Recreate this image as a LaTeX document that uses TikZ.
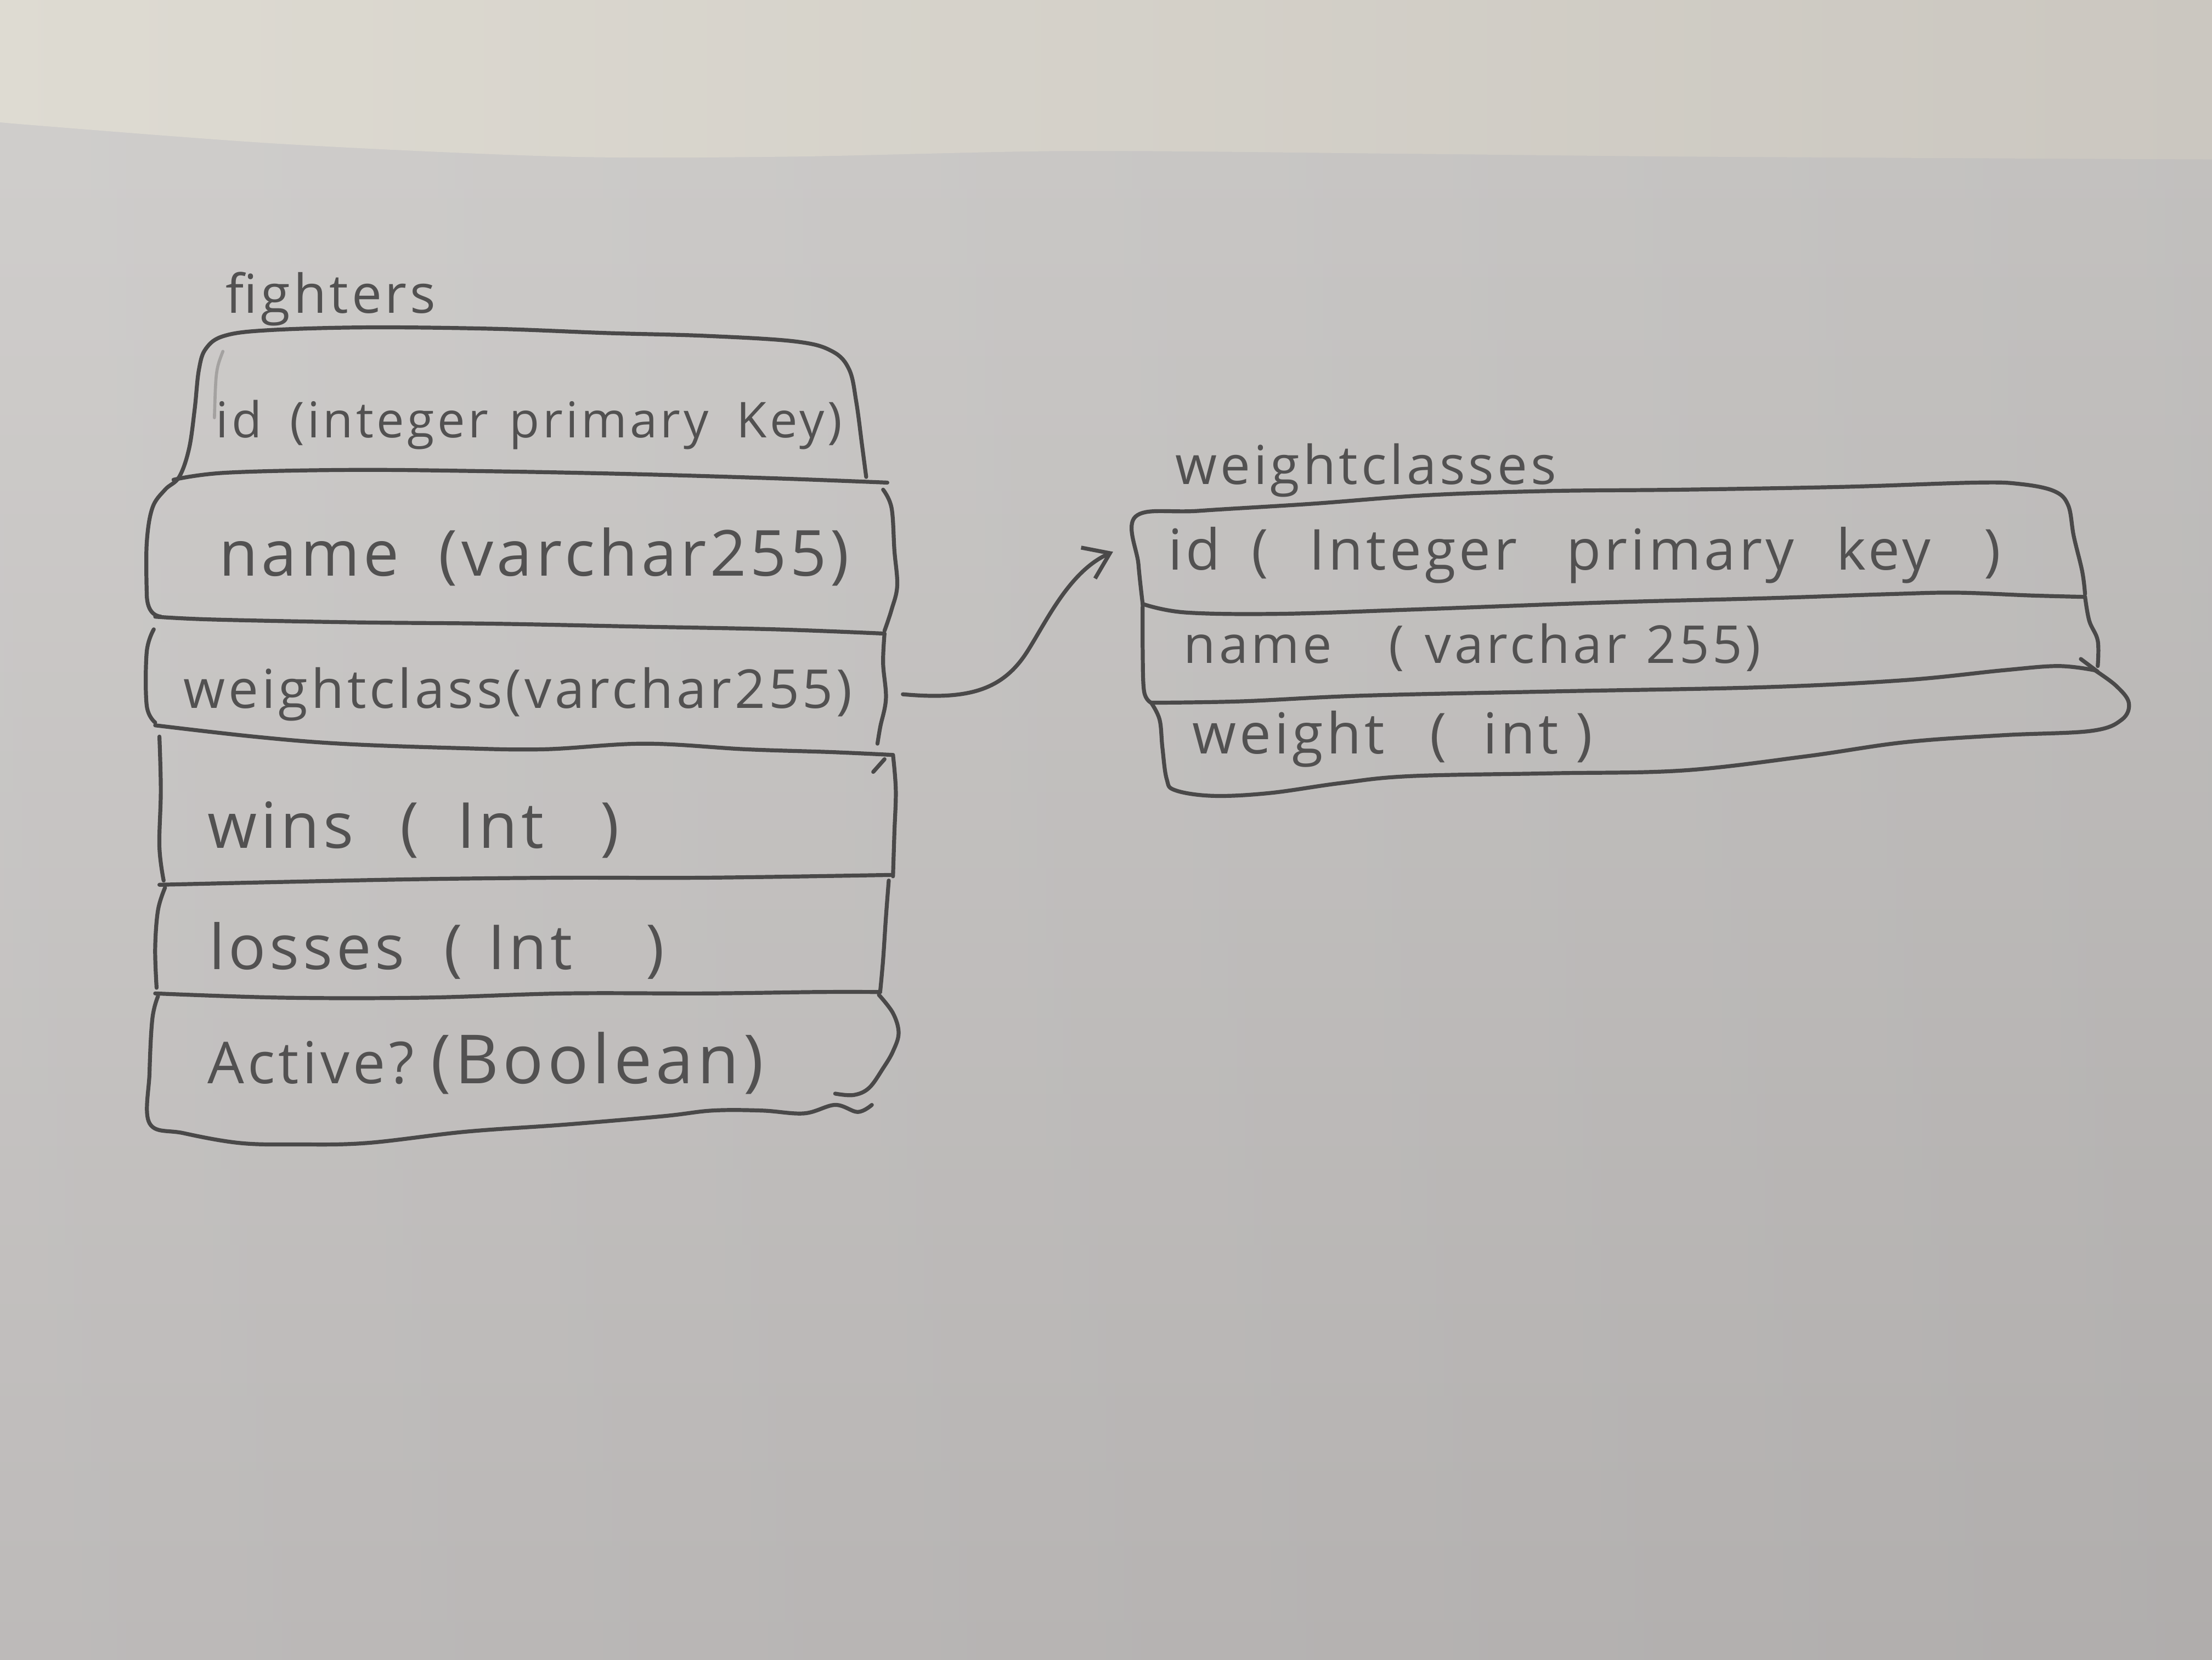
\documentclass[tikz,border=0pt]{standalone}
\usepackage{fontspec}
\newfontfamily\hand{Open Sans}[LetterSpace=6]
\usetikzlibrary{arrows.meta}
\definecolor{pencil}{HTML}{4A4949}
\definecolor{graphite}{HTML}{525151}
\definecolor{paperTop}{HTML}{CFCDCB}
\definecolor{paperLow}{HTML}{BAB7B6}
\definecolor{sheetL}{HTML}{DEDBD2}
\definecolor{sheetM}{HTML}{E4E1D8}
\definecolor{sheetR}{HTML}{CBC7C0}
\newcommand{\hwsize}[1]{\fontsize{#1}{#1}\selectfont}

\begin{document}
\begin{tikzpicture}[x=1pt,y=-1pt,line cap=round,line join=round,
  outline/.style={draw=pencil,line width=2.8pt},
  faint/.style={draw=pencil,line width=2.2pt,opacity=0.3},
  label/.style={text=graphite,inner sep=0pt,anchor=base west},
  link/.style={draw=pencil,line width=2.8pt,
    -{Straight Barb[length=17pt,width=24pt,line width=2.8pt]}}]

% paper
\useasboundingbox (0,0) rectangle (1568,1176);
\shade[top color=paperTop,bottom color=paperLow] (0,0) rectangle (1568,1176);
\shade[left color=white,right color=black,opacity=0.05] (0,0) rectangle (1568,1176);
% the lighter sheet lying above the page edge
\shade[left color=sheetL,middle color=sheetM,right color=sheetR]
  (0,0) -- (1568,0) -- plot[smooth] coordinates
  {(1568,113) (1200,111) (1000,109) (760,107) (560,111) (400,111) (200,102) (15,88) (0,86)} -- cycle;

% ---------------- table: fighters ----------------
\node[label,font=\hand\hwsize{38}] (fTitle) at (160,222) {fighters};

% id row: left side, top, right side
\draw[outline] plot[smooth,tension=0.6] coordinates
  {(104,420) (104,385) (108,360) (117,347) (127,338) (134,318) (138,290) (141,262)
   (146,247) (159,238) (190,234) (260,232) (350,233) (430,236) (500,238) (564,242)
   (590,249) (602,262) (607,285) (611,315) (614,338)};
\draw[outline] (104,420) .. controls (104,430) and (107,436) .. (114,437);
% divider id / name
\draw[outline] plot[smooth,tension=0.6] coordinates
  {(123,340) (160,335) (250,333) (350,334) (450,336) (550,339) (629,342)};
% name row right side
\draw[outline] plot[smooth,tension=0.6] coordinates
  {(626,347) (632,360) (634,390) (636,415) (632,432) (627,447)};
% divider name / weightclass
\draw[outline] plot[smooth,tension=0.6] coordinates
  {(110,437) (150,439) (250,441) (350,442) (450,444) (550,446) (627,449)};
% weightclass row sides
\draw[outline] plot[smooth,tension=0.6] coordinates
  {(109,446) (104,462) (104,500) (110,512)};
\draw[outline] plot[smooth,tension=0.6] coordinates
  {(627,449) (626,470) (628,495) (624,515) (622,527)};
% divider weightclass / wins
\draw[outline] plot[smooth,tension=0.6] coordinates
  {(110,514) (180,522) (241,527) (320,530) (385,531) (457,527) (529,531) (590,533) (633,535)};
\draw[outline] (619,547) -- (627,538);
% wins row sides
\draw[outline] plot[smooth,tension=0.6] coordinates
  {(113,522) (114,560) (113,600) (116,624)};
\draw[outline] plot[smooth,tension=0.6] coordinates
  {(633,535) (635,560) (634,590) (633,621)};
% divider wins / losses
\draw[outline] plot[smooth,tension=0.6] coordinates
  {(113,627) (200,625) (300,623) (400,622) (500,622) (633,620)};
% losses row sides
\draw[outline] plot[smooth,tension=0.6] coordinates
  {(117,629) (112,645) (110,672) (111,700)};
\draw[outline] plot[smooth,tension=0.6] coordinates
  {(630,624) (628,650) (626,680) (624,702)};
% divider losses / Active?
\draw[outline] plot[smooth,tension=0.6] coordinates
  {(110,704) (200,707) (300,707) (400,704) (500,704) (580,703) (624,703)};
% Active? row: left, bottom, right
\draw[outline] plot[smooth,tension=0.6] coordinates
  {(112,706) (108,722) (106,760) (106,796) (130,803) (170,810) (210,811) (260,810)
   (330,802) (400,797) (470,791) (505,787) (540,787) (570,789) (592,783) (608,788) (618,783)};
\draw[outline] plot[smooth,tension=0.6] coordinates
  {(623,705) (633,718) (637,732) (633,745) (626,757) (616,771) (605,776) (592,775)};
% erased stroke before "id"
\draw[faint] (158,249) .. controls (153,262) .. (152,296);

\node[label,font=\hand\hwsize{35}] (fId) at (153,310)
  {id\hspace{20pt}(integer\hspace{15pt}primary\hspace{20pt}Key)};
\node[label,font=\hand\hwsize{45}] (fName) at (155,408)
  {name\hspace{28pt}(varchar255)};
\node[label,font=\hand\hwsize{38}] (fWc) at (130,502)
  {weightclass(varchar255)};
\node[label,font=\hand\hwsize{45}] (fWins) at (147,601)
  {wins\hspace{33pt}(\hspace{27pt}Int\hspace{40pt})};
\node[label,font=\hand\hwsize{44}] (fLosses) at (148,687)
  {losses\hspace{28pt}(\hspace{18pt}Int\hspace{52pt})};
\node[label,font=\hand\hwsize{41}] (fActive) at (147,768)
  {Active?\hspace{12pt}{\hwsize{48}(Boolean)}};

% ---------------- table: weightclasses ----------------
\node[label,font=\hand\hwsize{38}] (wTitle) at (833,343) {weightclasses};

% id row: left, top, right
\draw[outline] plot[smooth,tension=0.6] coordinates
  {(810,428) (807,400) (805,366) (850,362) (930,357) (1010,351) (1096,348) (1193,347)
   (1307,345) (1400,342) (1432,343) (1456,348) (1466,358) (1470,380) (1476,405) (1478,421)};
% divider id / name
\draw[outline] plot[smooth,tension=0.6] coordinates
  {(810,428) (840,434) (907,435) (1000,432) (1136,427) (1250,424) (1340,421) (1387,420)
   (1440,422) (1478,423)};
% name row sides
\draw[outline] plot[smooth,tension=0.6] coordinates
  {(810,428) (810,460) (811,490) (816,498)};
\draw[outline] plot[smooth,tension=0.6] coordinates
  {(1478,423) (1481,440) (1487,454) (1487,472)};
\draw[outline] (1475,467) -- (1487,476);
% divider name / weight
\draw[outline] plot[smooth,tension=0.6] coordinates
  {(816,498) (880,497) (965,493) (1100,490) (1250,487) (1350,482) (1420,475) (1459,472) (1485,475)};
% weight row: right bulge, bottom, left
\draw[outline] plot[smooth,tension=0.6] coordinates
  {(1485,475) (1500,486) (1509,498) (1504,510) (1482,518) (1420,521) (1350,526) (1280,536)
   (1193,546) (1100,548) (1000,550) (950,555) (900,562) (860,564) (833,560) (827,552)
   (824,530) (822,510) (816,498)};

\node[label,font=\hand\hwsize{40}] (wId) at (828,404)
  {id\hspace{22pt}(\hspace{29pt}Integer\hspace{35pt}primary\hspace{30pt}key\hspace{38pt})};
\node[label,font=\hand\hwsize{37}] (wName) at (839,470)
  {name\hspace{40pt}(\hspace{15pt}varchar\hspace{14pt}255)};
\node[label,font=\hand\hwsize{40}] (wWeight) at (845,534)
  {weight\hspace{32pt}(\hspace{26pt}int\hspace{12pt})};

% ---------------- reference: fighters.weightclass -> weightclasses.id ----------------
\coordinate (fkOut) at (640,492);
\coordinate (pkIn) at (789,391);
\draw[link] (fkOut) .. controls (685,496) and (710,490) .. (728,462)
  .. controls (742,440) and (758,405) .. (pkIn);

\end{tikzpicture}
\end{document}
